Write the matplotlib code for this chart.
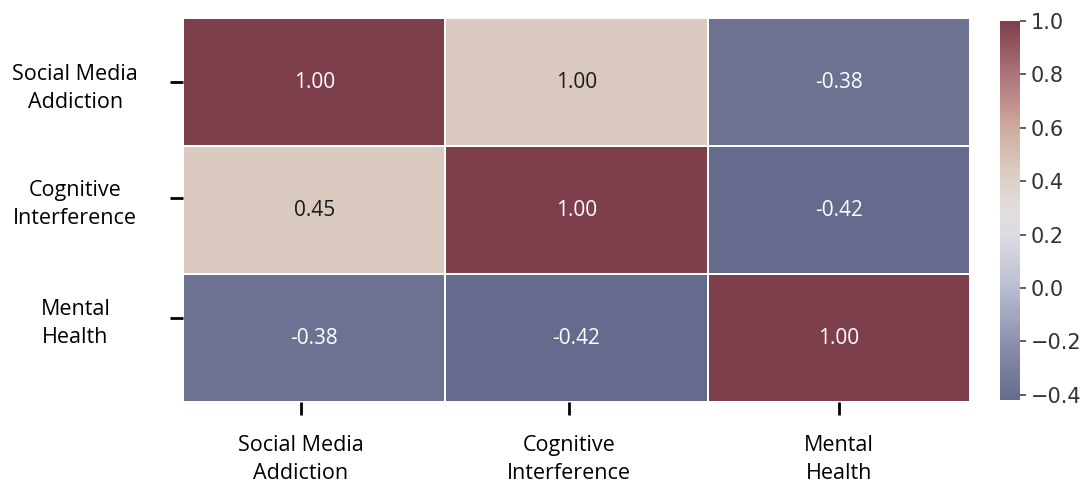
import numpy as np
import matplotlib
matplotlib.use("Agg")
import matplotlib.pyplot as plt
from matplotlib.colors import LinearSegmentedColormap, Normalize

variables = ["Social Media\nAddiction", "Cognitive\nInterference", "Mental\nHealth"]

# correlation values used for cell colours
corr_values = [
    [1.00, 0.45, -0.38],
    [0.45, 1.00, -0.42],
    [-0.38, -0.42, 1.00],
]

# text printed in each cell
cell_labels = [
    ["1.00", "1.00", "-0.38"],
    ["0.45", "1.00", "-0.42"],
    ["-0.38", "-0.42", "1.00"],
]

vmin, vmax = -0.42, 1.0
cbar_ticks = [-0.4, -0.2, 0.0, 0.2, 0.4, 0.6, 0.8, 1.0]

# muted slate -> light grey -> dusty red
anchors = [
    (-0.42, "#666a8c"),
    (-0.2, "#8d91ae"),
    (0.0, "#b9bdd0"),
    (0.2, "#dcdce3"),
    (0.3, "#e2dddb"),
    (0.45, "#dac9bf"),
    (0.6, "#cfab9f"),
    (0.8, "#ad7479"),
    (1.0, "#7e3f4c"),
]
cmap = LinearSegmentedColormap.from_list(
    "slate_rose", [((v - vmin) / (vmax - vmin), c) for v, c in anchors])
norm = Normalize(vmin=vmin, vmax=vmax)

data = np.array(corr_values)

fig = plt.figure(figsize=(10.88, 4.84), dpi=100)
ax = fig.add_axes([183 / 1088, 1 - 402 / 484, 787 / 1088, 384 / 484])
cax = fig.add_axes([1000 / 1088, 1 - 400 / 484, 20 / 1088, 379 / 484])

mesh = ax.pcolormesh(data, cmap=cmap, norm=norm, edgecolors="white", linewidth=1.1)
ax.set_xlim(0, 3)
ax.set_ylim(3, 0)

for i in range(3):
    for j in range(3):
        val = data[i, j]
        col = "#1a1a1a" if 0.1 < val < 0.6 else "white"
        ax.text(j + 0.5, i + 0.5, cell_labels[i][j], ha="center", va="center",
                fontsize=15, color=col, family="Open Sans")

for s in ax.spines.values():
    s.set_visible(False)

ax.set_xticks([0.45, 1.47, 2.5])
ax.set_xticklabels(variables, family="Open Sans", fontsize=15.5, linespacing=1.45)
ax.set_yticks([0.5, 1.41, 2.34])
ax.set_yticklabels(variables, family="Open Sans", fontsize=15.5, ha="center",
                   linespacing=1.45)
ax.tick_params(axis="x", length=9.5, width=2, pad=14)
ax.tick_params(axis="y", length=9.5, width=2, pad=68)
for lbl in ax.get_xticklabels():
    lbl.set_ha("center")

cb = fig.colorbar(mesh, cax=cax, ticks=cbar_ticks)
cb.outline.set_visible(False)
cb.ax.tick_params(labelsize=15, length=4, width=1.2, colors="#444444",
                  labelcolor="#333333")

fig.savefig("out.png", dpi=100)
